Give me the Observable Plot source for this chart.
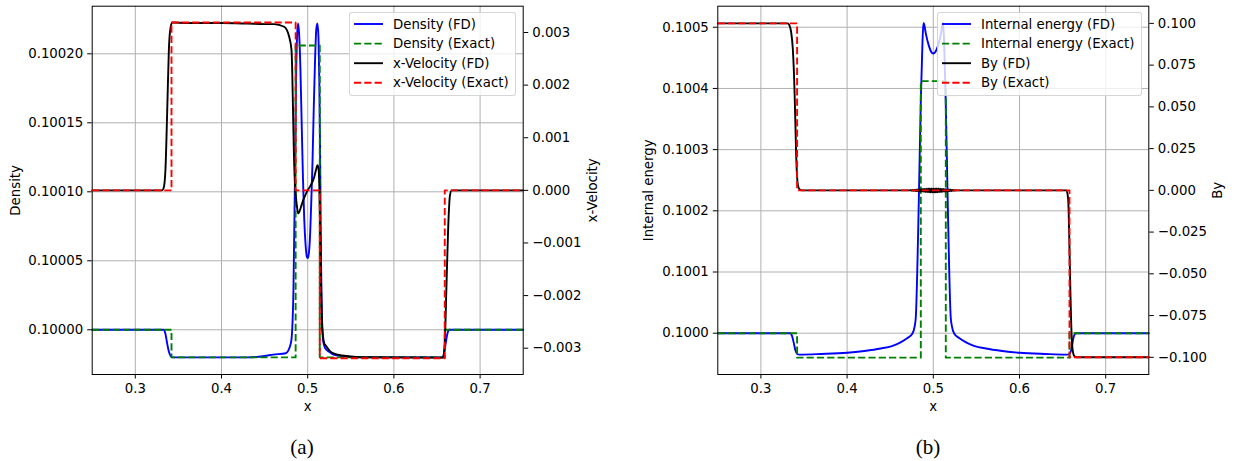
<!DOCTYPE html>
<html><head><meta charset="utf-8">
<script src="https://cdn.jsdelivr.net/npm/d3@7"></script>
<script src="https://cdn.jsdelivr.net/npm/@observablehq/plot@0.6"></script>
<style>
body{margin:0;background:#fff;font-family:"DejaVu Sans",sans-serif;}
#root{position:relative;width:1234px;height:461px;overflow:hidden;background:#fff}
.layer{position:absolute;top:0}
.legend{position:absolute;background:rgba(255,255,255,0.8);border:1px solid rgba(204,204,204,0.8);border-radius:3px;box-sizing:border-box}
.caption{position:absolute;font-family:"Liberation Serif",serif;font-size:21px;transform:translate(-50%,-50%);color:#000}
</style></head><body><div id="root"></div><script>
// ---------- tick values ----------
const xTicks = [0.3, 0.4, 0.5, 0.6, 0.7];
const densityTicks = [0.1, 0.10005, 0.1001, 0.10015, 0.1002];
const velocityTicks = [-0.003, -0.002, -0.001, 0, 0.001, 0.002, 0.003];
const energyTicks = [0.1, 0.1001, 0.1002, 0.1003, 0.1004, 0.1005];
const byTicks = [-0.1, -0.075, -0.05, -0.025, 0, 0.025, 0.05, 0.075, 0.1];

// ---------- panel (a) series: [x, value] ----------
const densityExact = [[0.25,0.1],[0.342,0.09998],[0.486,0.100206],[0.514,0.09998],[0.659,0.1],[0.75,0.1]];
const velocityExact = [[0.25,0],[0.342,0.00319],[0.486,0],[0.514,-0.00319],[0.659,0],[0.75,0]];
const densityFD = [[0.25,0.1],[0.333,0.1],[0.335,0.099997],[0.337,0.09999],[0.339,0.099984],[0.341,0.099981],[0.343,0.09998],[0.36,0.09998],[0.40,0.09998],[0.43,0.09998],[0.45,0.099981],[0.46,0.099982],[0.4746,0.099983],[0.4804,0.09999],[0.482,0.1],[0.4835,0.10003],[0.485,0.1001],[0.4865,0.10018],[0.4878,0.100215],[0.4889,0.100222],[0.49,0.100215],[0.4915,0.10019],[0.493,0.10015],[0.4945,0.10011],[0.496,0.10008],[0.4975,0.100062],[0.499,0.100053],[0.5,0.100052],[0.501,0.100054],[0.5025,0.100065],[0.504,0.10009],[0.5055,0.10012],[0.507,0.10016],[0.5085,0.100195],[0.51,0.100218],[0.5113,0.100222],[0.5125,0.100212],[0.5135,0.10018],[0.5145,0.10012],[0.5155,0.10005],[0.5165,0.100005],[0.518,0.099992],[0.52,0.099987],[0.525,0.099984],[0.53,0.099982],[0.54,0.099981],[0.56,0.09998],[0.6,0.09998],[0.656,0.09998],[0.658,0.099982],[0.66,0.09999],[0.662,0.099997],[0.664,0.1],[0.666,0.1],[0.75,0.1]];
const velocityFD = [[0.25,0],[0.331,0],[0.333,0.00005],[0.335,0.0004],[0.337,0.0015],[0.339,0.0027],[0.341,0.0031],[0.343,0.00319],[0.36,0.00318],[0.40,0.00318],[0.43,0.00317],[0.45,0.00316],[0.461,0.00316],[0.4727,0.00311],[0.4785,0.00292],[0.4812,0.00267],[0.482,0.0023],[0.483,0.0015],[0.484,0.0007],[0.485,0.0002],[0.486,-0.00006],[0.4875,-0.0003],[0.4889,-0.00044],[0.4905,-0.0004],[0.4925,-0.0003],[0.4945,-0.0002],[0.497,-0.0001],[0.4998,0],[0.503,0.00008],[0.5075,0.00025],[0.5095,0.00038],[0.5113,0.00048],[0.5125,0.00042],[0.5135,0.0001],[0.5145,-0.0008],[0.5155,-0.0018],[0.517,-0.0026],[0.519,-0.0029],[0.521,-0.00295],[0.525,-0.00304],[0.53,-0.0031],[0.54,-0.00314],[0.56,-0.00317],[0.657,-0.00318],[0.659,-0.0029],[0.661,-0.0018],[0.663,-0.0007],[0.665,-0.0001],[0.667,0],[0.75,0]];

// ---------- panel (b) series ----------
const energyExact = [[0.25,0.1],[0.342,0.09996],[0.4855,0.100412],[0.5145,0.09996],[0.658,0.1],[0.75,0.1]];
const byExact = [[0.25,0.1],[0.342,0],[0.658,-0.1],[0.75,-0.1]];
const energyFD = [[0.25,0.1],[0.334,0.1],[0.336,0.099996],[0.338,0.099985],[0.34,0.099972],[0.342,0.099966],[0.345,0.099965],[0.37,0.099966],[0.40,0.099968],[0.42,0.099971],[0.439,0.099975],[0.452,0.099979],[0.462,0.099985],[0.47,0.099992],[0.4756,0.099999],[0.4785,0.100012],[0.4797,0.100026],[0.4832,0.100217],[0.4855,0.10038],[0.4875,0.100478],[0.4886,0.100507],[0.4895,0.100504],[0.4913,0.10049],[0.4948,0.10047],[0.4975,0.10046],[0.5,0.100457],[0.5025,0.10046],[0.5055,0.10047],[0.509,0.10049],[0.5105,0.100504],[0.5113,0.100507],[0.5125,0.100478],[0.5144,0.10038],[0.5167,0.100217],[0.5202,0.100026],[0.5215,0.100012],[0.5244,0.099999],[0.53,0.099992],[0.538,0.099985],[0.548,0.099979],[0.561,0.099975],[0.58,0.099971],[0.6,0.099968],[0.63,0.099966],[0.655,0.099965],[0.658,0.099966],[0.6595,0.09997],[0.661,0.09998],[0.6625,0.099992],[0.664,0.099998],[0.665,0.1],[0.75,0.1]];
const byFD = [[0.25,0.1],[0.331,0.1],[0.333,0.099],[0.335,0.095],[0.337,0.085],[0.339,0.06],[0.34,0.04],[0.341,0.02],[0.342,0.008],[0.343,0.003],[0.345,0.0005],[0.347,0],[0.473,0],
  [0.474,0.0001],[0.475,-0.00015],[0.476,0.0002],[0.477,-0.00025],[0.478,0.0003],[0.479,-0.00035],[0.48,0.0004],[0.481,-0.00045],[0.482,0.0005],[0.483,-0.00055],[0.484,0.0006],[0.485,-0.00065],[0.486,0.0007],[0.487,-0.00075],[0.488,0.0008],[0.489,-0.00085],[0.49,0.0009],[0.491,-0.00095],[0.492,0.001],[0.493,-0.00105],[0.494,0.0011],[0.495,-0.00112],[0.496,0.00115],[0.497,-0.00118],[0.498,0.0012],[0.499,-0.0012],[0.5,0.0012],[0.501,-0.0012],[0.502,0.0012],[0.503,-0.00118],[0.504,0.00115],[0.505,-0.00112],[0.506,0.0011],[0.507,-0.00105],[0.508,0.001],[0.509,-0.00095],[0.51,0.0009],[0.511,-0.00085],[0.512,0.0008],[0.513,-0.00075],[0.514,0.0007],[0.515,-0.00065],[0.516,0.0006],[0.517,-0.00055],[0.518,0.0005],[0.519,-0.00045],[0.52,0.0004],[0.521,-0.00035],[0.522,0.0003],[0.523,-0.00025],[0.524,0.0002],[0.525,-0.00015],[0.526,0.0001],[0.527,0],
  [0.654,0],[0.656,-0.003],[0.657,-0.012],[0.658,-0.035],[0.659,-0.06],[0.66,-0.08],[0.661,-0.092],[0.6625,-0.098],[0.664,-0.0995],[0.666,-0.1],[0.75,-0.1]];

// ---------- labels ----------
const legendA = [["Density (FD)","#0000ff",false],["Density (Exact)","#008000",true],["x-Velocity (FD)","#000000",false],["x-Velocity (Exact)","#ff0000",true]];
const legendB = [["Internal energy (FD)","#0000ff",false],["Internal energy (Exact)","#008000",true],["By (FD)","#000000",false],["By (Exact)","#ff0000",true]];

// ---------- layout ----------
const H = 420, MT = 5.7, MB = 46, PW = 617, FS = 13.3;
const LW = 1.9, DASH = "7.2,3.1";
const style = {fontFamily: "DejaVu Sans", fontSize: FS + "px", color: "black", background: "transparent", overflow: "visible"};
const root = document.getElementById("root");

function lineMark(data, color, dashed) {
  return Plot.line(data, {x: d => d[0], y: d => d[1], stroke: color, strokeWidth: LW,
    curve: dashed ? "step-after" : "monotone-x",
    strokeDasharray: dashed ? DASH : null, strokeLinecap: dashed ? "butt" : "round"});
}

function panel(cfg) {
  const wrap = document.createElement("div");
  wrap.className = "layer";
  wrap.style.left = cfg.left + "px";
  wrap.style.width = PW + "px";
  wrap.style.height = H + "px";
  const common = {width: PW, height: H, marginLeft: cfg.ml, marginRight: cfg.mr, marginTop: MT, marginBottom: MB, style};
  const p1 = Plot.plot({
    ...common,
    x: {domain: [0.25, 0.75]},
    y: {domain: cfg.y1Domain},
    marks: [
      Plot.gridX({ticks: xTicks, stroke: "#b0b0b0", strokeOpacity: 1, strokeWidth: 1}),
      Plot.gridY({ticks: cfg.y1Ticks, stroke: "#b0b0b0", strokeOpacity: 1, strokeWidth: 1}),
      lineMark(cfg.s1[0], "#0000ff", false),
      lineMark(cfg.s1[1], "#008000", true),
      Plot.frame({stroke: "black", strokeWidth: 1}),
      Plot.axisX({ticks: xTicks, tickFormat: d3.format(".1f"), tickSize: 4.5, tickPadding: 4.5, label: null, fontSize: FS}),
      Plot.axisY({anchor: "left", ticks: cfg.y1Ticks, tickFormat: d3.format(cfg.y1Fmt), tickSize: 4.5, tickPadding: 4.5, label: null, fontSize: FS}),
      Plot.text([cfg.y1Label], {text: d => d, frameAnchor: "left", textAnchor: "middle", rotate: -90, dx: -cfg.y1Off, lineAnchor: "top", fontSize: FS}),
      Plot.text(["x"], {text: d => d, frameAnchor: "bottom", textAnchor: "middle", dy: 36, lineAnchor: "bottom", fontSize: FS})
    ]
  });
  const p2 = Plot.plot({
    ...common,
    x: {domain: [0.25, 0.75], axis: null},
    y: {domain: cfg.y2Domain},
    marks: [
      lineMark(cfg.s2[0], "#000000", false),
      lineMark(cfg.s2[1], "#ff0000", true),
      Plot.axisY({anchor: "right", ticks: cfg.y2Ticks, tickFormat: d3.format(cfg.y2Fmt), tickSize: 4.5, tickPadding: 4.5, label: null, fontSize: FS}),
      Plot.text([cfg.y2Label], {text: d => d, frameAnchor: "right", textAnchor: "middle", rotate: -90, dx: 73.5, lineAnchor: "bottom", fontSize: FS})
    ]
  });
  for (const p of [p1, p2]) { p.style.position = "absolute"; p.style.left = "0px"; p.style.top = "0px"; wrap.appendChild(p); }
  root.appendChild(wrap);

  // legend
  const lg = document.createElement("div");
  lg.className = "legend";
  lg.style.left = cfg.lg[0] + "px"; lg.style.top = cfg.lg[1] + "px";
  lg.style.width = cfg.lg[2] + "px"; lg.style.height = "84px";
  const ns = "http://www.w3.org/2000/svg";
  const svg = document.createElementNS(ns, "svg");
  svg.setAttribute("width", cfg.lg[2] - 2); svg.setAttribute("height", 82);
  svg.style.position = "absolute"; svg.style.left = "0"; svg.style.top = "0";
  cfg.items.forEach(([label, color, dashed], i) => {
    const y = 11 + i * 19.6;
    const ln = document.createElementNS(ns, "line");
    ln.setAttribute("x1", 4); ln.setAttribute("x2", 33); ln.setAttribute("y1", y); ln.setAttribute("y2", y);
    ln.setAttribute("stroke", color); ln.setAttribute("stroke-width", LW);
    if (dashed) ln.setAttribute("stroke-dasharray", DASH);
    svg.appendChild(ln);
    const t = document.createElementNS(ns, "text");
    t.setAttribute("x", 43); t.setAttribute("y", y); t.setAttribute("dy", "0.35em");
    t.setAttribute("font-family", "DejaVu Sans"); t.setAttribute("font-size", FS); t.setAttribute("fill", "#000");
    t.textContent = label;
    svg.appendChild(t);
  });
  lg.appendChild(svg);
  root.appendChild(lg);

  const cap = document.createElement("div");
  cap.className = "caption";
  cap.style.left = cfg.cap[0] + "px"; cap.style.top = cfg.cap[1] + "px";
  cap.textContent = cfg.caption;
  root.appendChild(cap);
}

panel({left: 0, ml: 91.7, mr: PW - 522.7,
  y1Domain: [0.0999676, 0.1002345], y1Ticks: densityTicks, y1Fmt: ".5f", y1Label: "Density", y1Off: 82,
  y2Domain: [-0.0035, 0.0035], y2Ticks: velocityTicks, y2Fmt: ".3f", y2Label: "x-Velocity",
  s1: [densityFD, densityExact], s2: [velocityFD, velocityExact],
  lg: [349, 12, 167], items: legendA, cap: [302, 447], caption: "(a)"});

panel({left: PW, ml: 717.3 - PW, mr: 2 * PW - 1148.3,
  y1Domain: [0.0999325, 0.1005344], y1Ticks: energyTicks, y1Fmt: ".4f", y1Label: "Internal energy", y1Off: 74,
  y2Domain: [-0.1103, 0.1103], y2Ticks: byTicks, y2Fmt: ".3f", y2Label: "By",
  s1: [energyFD, energyExact], s2: [byFD, byExact],
  lg: [937, 12, 205], items: legendB, cap: [928, 447], caption: "(b)"});
</script></body></html>
